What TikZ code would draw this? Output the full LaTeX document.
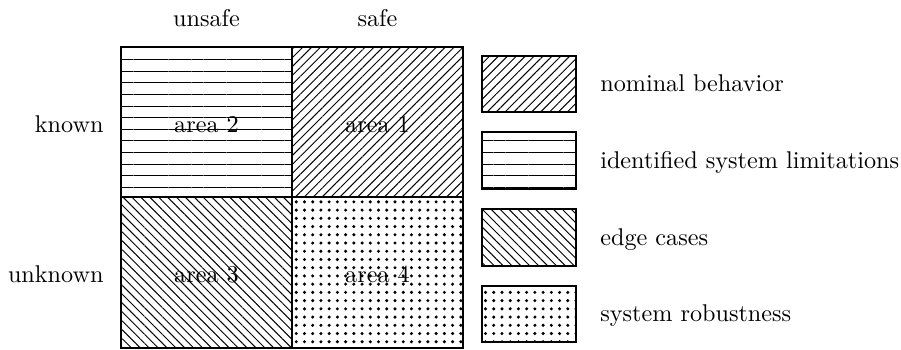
\documentclass[tikz,border=0pt]{standalone}
\usetikzlibrary{patterns.meta}

\begin{document}
\begin{tikzpicture}[x=0.75pt,y=0.75pt,yscale=-1,xscale=1,
    box/.style={line width=0.6pt},
    nomfill/.style={pattern={Lines[angle=45,distance=2.6pt,line width=0.4pt]}},
    limfill/.style={pattern={Lines[angle=0,distance=4.8pt,line width=0.4pt]}},
    edgefill/.style={pattern={Lines[angle=-45,distance=2.6pt,line width=0.4pt]}},
    robfill/.style={pattern={Dots[distance=3.4pt,radius=0.7pt]}},
    txt/.style={inner sep=0.75pt,anchor=base}]
        %set diagram size
        \path [use as bounding box] (0,0) rectangle (496.36,192.82);
        %Shape: Rectangle [area 2]
        \draw [box,limfill] (66.66,25.89) rectangle (160.86,108.53);
        %Shape: Rectangle [area 1]
        \draw [box,nomfill] (160.86,25.89) rectangle (255.07,108.53);
        %Shape: Rectangle [area 3]
        \draw [box,edgefill] (66.66,108.53) rectangle (160.86,191.71);
        %Shape: Rectangle [area 4]
        \draw [box,robfill] (160.86,108.53) rectangle (255.07,191.71);

        %Shape: Rectangle [legend]
        \draw [box,nomfill] (265.53,30.85) rectangle (317.32,61.70);
        \draw [box,limfill] (265.53,72.72) rectangle (317.32,104.12);
        \draw [box,edgefill] (265.53,115.14) rectangle (317.32,146.54);
        \draw [box,robfill] (265.53,157.56) rectangle (317.32,188.41);

        % Text Node
        \node [txt] (unsafe) at (113.76,14.87) {unsafe};
        % Text Node
        \node [txt] (safe) at (207.96,14.87) {safe};
        % Text Node
        \node [txt,anchor=base east] (known) at (58.3,73.27) {known};
        % Text Node
        \node [txt,anchor=base east] (unknown) at (58.3,155.90) {unknown};
        % Text Node
        \node [txt] (area2) at (113.76,73.27) {area 2};
        % Text Node
        \node [txt] (area1) at (207.96,73.27) {area 1};
        % Text Node
        \node [txt] (area3) at (113.76,155.90) {area 3};
        % Text Node
        \node [txt] (area4) at (207.96,155.90) {area 4};
        % Text Node
        \node [txt,anchor=base west] (nominal) at (329.44,50.68) {nominal behavior};
        % Text Node
        \node [txt,anchor=base west] (limits) at (329.44,93.10) {identified system limitations};
        % Text Node
        \node [txt,anchor=base west] (edges) at (329.44,135.52) {edge cases};
        % Text Node
        \node [txt,anchor=base west] (robust) at (329.44,177.39) {system robustness};
\end{tikzpicture}
\end{document}
